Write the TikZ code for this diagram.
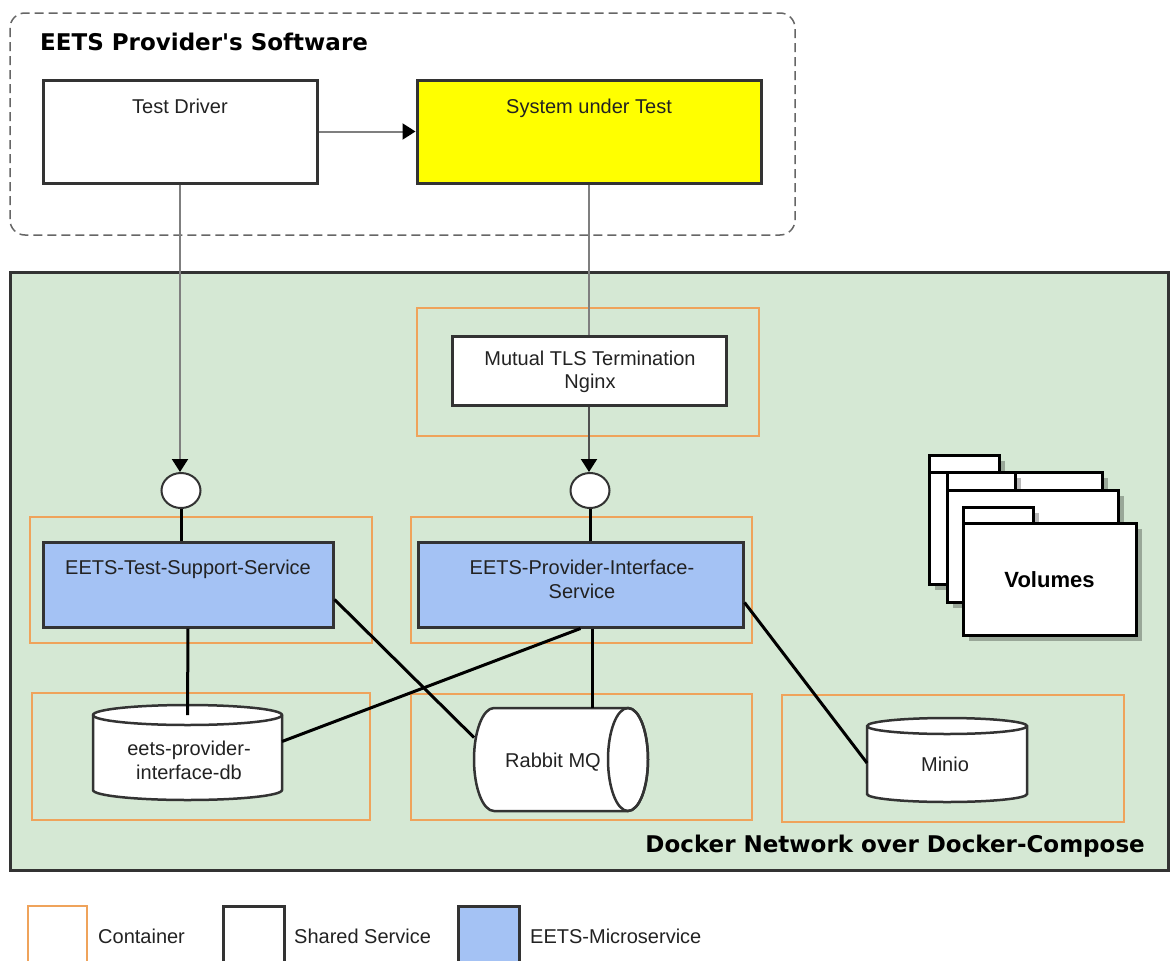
\documentclass[tikz,border=0pt]{standalone}
\usepackage{fontspec}
\setmainfont{Liberation Sans}
\newfontfamily\titlefont{DejaVu Sans}
\usetikzlibrary{arrows.meta,shapes.geometric}
\definecolor{grn}{HTML}{D5E8D4}
\definecolor{msblue}{HTML}{A4C2F4}
\definecolor{orng}{HTML}{EFA35B}
\definecolor{bordc}{HTML}{333333}
\definecolor{txtc}{HTML}{222222}
\definecolor{arrowgray}{HTML}{7F7F7F}
\definecolor{darkline}{HTML}{505050}
\definecolor{dashc}{HTML}{666666}
\definecolor{sutyellow}{HTML}{FFFF00}
\begin{document}
\begin{tikzpicture}[x=1pt,y=-1pt,
  font=\fontsize{20}{24}\selectfont,
  txt/.style={inner sep=0pt, text=txtc, align=center},
  shbox/.style={draw=bordc, line width=3pt, fill=white, inner sep=0pt},
  ms/.style={shbox, fill=msblue},
  cont/.style={draw=orng, line width=1.5pt},
  conn/.style={line width=3pt, draw=black},
  gline/.style={line width=2pt, draw=arrowgray},
  garrow/.style={gline, -{Triangle[width=16pt,length=13pt,color=black]}},
  darrow/.style={line width=2pt, draw=darkline, -{Triangle[width=16pt,length=13pt,color=black]}},
  port/.style={ellipse, draw=bordc, line width=2pt, fill=white, minimum width=39pt, minimum height=35pt, inner sep=0pt},
  cyl/.style={draw=bordc, line width=2.5pt, fill=white},
  anch/.style={inner sep=0pt, outer sep=0pt},
  bigtitle/.style={inner sep=0pt, text=black, font=\titlefont\bfseries\fontsize{23}{28}\selectfont},
  folder/.style={draw=black, line width=3pt, fill=white},
  fshadow/.style={fill=black, opacity=0.28},
]
\useasboundingbox (0,0) rectangle (1170,961);
\clip (0,0) rectangle (1170,961);
\fill[white] (0,0) rectangle (1170,961);

% ---------- provider software ----------
\draw[dashc, line width=1.5pt, dash pattern=on 9pt off 5pt, rounded corners=15pt] (10,13) rectangle (795,235);
\node[bigtitle, anchor=base west] (title) at (40,50) {EETS Provider's Software};

\node[shbox, minimum width=274pt, minimum height=103pt] (td) at (180,131.5) {};
\node[txt, anchor=base] (tdt) at (180,113) {Test Driver};
\node[shbox, fill=sutyellow, minimum width=344pt, minimum height=103pt] (sut) at (589,131.5) {};
\node[txt, anchor=base] (sutt) at (589,113) {System under Test};

% ---------- docker network ----------
\draw[draw=bordc, fill=grn, line width=3pt] (10,272) rectangle (1168,870);
\node[bigtitle, anchor=base east] (dock) at (1145,852) {Docker Network over Docker-Compose};

% containers
\draw[cont] (417,308) rectangle (759,436);
\draw[cont] (30,517) rectangle (372,643);
\draw[cont] (411,517) rectangle (752,643);
\draw[cont] (32,693) rectangle (370,820);
\draw[cont] (411,694) rectangle (752,820);
\draw[cont] (782,695) rectangle (1124,822);

% nginx
\node[shbox, minimum width=274pt, minimum height=69pt] (ngx) at (589,370.5) {};
\node[txt, anchor=base] (ngxt1) at (590,365) {Mutual TLS Termination};
\node[txt, anchor=base] (ngxt2) at (590,388) {Nginx};

% ports
\node[port] (c1) at (181,490.5) {};
\node[port] (c2) at (590,490.5) {};

% microservices
\node[ms, minimum width=290pt, minimum height=85pt] (tss) at (188,584.5) {};
\node[txt, anchor=base] (tsst) at (188,574) {EETS-Test-Support-Service};
\node[ms, minimum width=325pt, minimum height=85pt] (pis) at (580.5,584.5) {};
\node[txt, anchor=base] (pist1) at (582,574) {EETS-Provider-Interface-};
\node[txt, anchor=base] (pist2) at (582,598) {Service};

% database cylinder
\path[cyl] (93,715) -- (93,790) arc[start angle=180, end angle=360, x radius=94.5pt, y radius=10pt]
  -- (282,715) arc[start angle=0, end angle=180, x radius=94.5pt, y radius=10pt] -- cycle;
\draw[cyl, fill=none] (93,715) arc[start angle=180, end angle=360, x radius=94.5pt, y radius=10pt];
\node[anch, minimum width=189pt, minimum height=95pt] (db) at (187.5,752.5) {};
\node[txt, anchor=base] (dbt1) at (189,755) {eets-provider-};
\node[txt, anchor=base] (dbt2) at (189,779) {interface-db};

% rabbit mq cylinder (horizontal)
\path[cyl] (628,708) -- (494,708) arc[start angle=90, end angle=270, x radius=20pt, y radius=51.5pt]
  -- (628,811) arc[start angle=270, end angle=450, x radius=20pt, y radius=51.5pt] -- cycle;
\draw[cyl, fill=none] (628,759.5) ellipse[x radius=20pt, y radius=51.5pt];
\node[anch, minimum width=174pt, minimum height=103pt] (rmq) at (561,759.5) {};
\node[txt, anchor=base] (rmqt) at (553,767) {Rabbit MQ};

% minio cylinder
\path[cyl] (867,726) -- (867,794) arc[start angle=180, end angle=360, x radius=80pt, y radius=8pt]
  -- (1027,726) arc[start angle=0, end angle=180, x radius=80pt, y radius=8pt] -- cycle;
\draw[cyl, fill=none] (867,726) arc[start angle=180, end angle=360, x radius=80pt, y radius=8pt];
\node[anch, minimum width=160pt, minimum height=84pt] (mio) at (947,760) {};
\node[txt, anchor=base] (miot) at (945,771) {Minio};

% volumes (stacked folders)
\fill[fshadow] (935,461) rectangle (1005,478);
\fill[fshadow] (935,478) rectangle (1108,590);
\draw[folder] (929,455) rectangle (999,472);
\draw[folder] (929,472) rectangle (1102,584);
\fill[fshadow] (953,478) rectangle (1021,496);
\fill[fshadow] (953,496) rectangle (1124,608);
\draw[folder] (947,472) rectangle (1015,490);
\draw[folder] (947,490) rectangle (1118,602);
\fill[fshadow] (969,513) rectangle (1039,529);
\fill[fshadow] (969,529) rectangle (1142,641);
\draw[folder] (963,507) rectangle (1033,523);
\draw[folder] (963,523) rectangle (1136,635);
\node[inner sep=0pt, text=black, font=\bfseries\fontsize{22}{26}\selectfont, anchor=base] (vol) at (1049.5,587) {Volumes};

% ---------- connectors ----------
\draw[garrow] (td.east) -- (sut.west);
\draw[garrow] (td.south) -- (td.south |- c1.north);
\draw[gline] (sut.south) -- (ngx.north);
\draw[darrow] (ngx.south) -- (ngx.south |- c2.north);
\draw[conn] (c1.south) -- (c1.south |- tss.north);
\draw[conn] (c2.south) -- (c2.south |- pis.north);
\draw[conn] (tss.south) -- ([yshift=-10pt]db.north);
\draw[conn] ([yshift=-15pt]tss.east) -- ([yshift=22pt]rmq.west);
\draw[conn] (pis.south) -- ([yshift=11pt]db.east);
\draw[conn] ([xshift=12pt]pis.south) -- ([xshift=12pt]pis.south |- rmq.north);
\draw[conn] ([yshift=-18pt]pis.east) -- ([yshift=-3pt]mio.west);

% ---------- legend ----------
\node[cont, inner sep=0pt, minimum width=59pt, minimum height=80pt, anchor=north west] (lg1) at (27,905) {};
\node[txt, anchor=base west] (lg1t) at (98,943) {Container};
\node[shbox, minimum width=61pt, minimum height=80pt, anchor=north west] (lg2) at (222,905) {};
\node[txt, anchor=base west] (lg2t) at (294,943) {Shared Service};
\node[ms, minimum width=61pt, minimum height=80pt, anchor=north west] (lg3) at (457,905) {};
\node[txt, anchor=base west] (lg3t) at (530,943) {EETS-Microservice};
\end{tikzpicture}
\end{document}
